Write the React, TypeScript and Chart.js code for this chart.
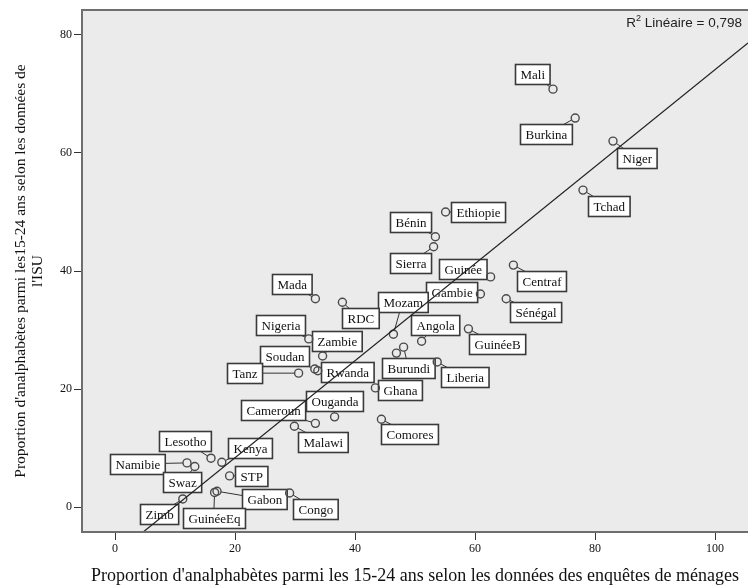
import React, { useEffect, useRef } from "react";
import { Chart, registerables } from "chart.js";

Chart.register(...registerables);

// ---- Data ----
const countries = [
  "Mali", "Burkina", "Niger", "Tchad", "Ethiopie", "Bénin", "Sierra", "Guinée", "Gambie", "Centraf",
  "Sénégal", "Mozam", "Angola", "GuinéeB", "Mada", "RDC", "Nigeria", "Zambie", "Soudan", "Rwanda",
  "Tanz", "Burundi", "", "Liberia", "Ghana", "Ouganda", "Cameroun", "Malawi", "Comores", "Lesotho",
  "Kenya", "Namibie", "Swaz", "STP", "Gabon", "GuinéeEq", "Congo", "Zimb",
];

// x: share of illiterates aged 15-24 according to household surveys
const surveyValues = [
  73.0, 76.7, 83.0, 78.0, 55.1, 53.4, 53.1, 62.6, 60.9, 66.4,
  65.2, 46.4, 51.1, 58.9, 33.4, 37.9, 32.3, 34.6, 33.3, 33.8,
  30.6, 48.1, 46.9, 53.7, 43.4, 36.6, 33.4, 29.9, 44.4, 16.0,
  17.8, 12.0, 13.3, 19.1, 17.0, 16.6, 29.1, 11.3,
];

// y: share of illiterates aged 15-24 according to UIS data
const isuValues = [
  70.8, 65.9, 62.0, 53.7, 50.0, 45.8, 44.1, 39.0, 36.1, 41.0,
  35.3, 29.3, 28.1, 30.2, 35.3, 34.7, 28.5, 25.6, 23.4, 23.1,
  22.7, 27.1, 26.1, 24.6, 20.2, 15.3, 14.2, 13.7, 14.9, 8.3,
  7.6, 7.5, 6.9, 5.3, 2.7, 2.5, 2.4, 1.4,
];

// Fit line end points
const fitLineX = [4.7, 105.5];
const fitLineY = [-4.2, 78.6];
const r2Value = "0,798";

const xTicks = [0, 20, 40, 60, 80, 100];
const yTicks = [0, 20, 40, 60, 80];

const xTitle = "Proportion d'analphabètes parmi les 15-24 ans selon les données des enquêtes de ménages";
const yTitle = ["Proportion d'analphabètes parmi les15-24 ans selon les données de", "l'ISU"];

// ---- Layout: label box centre offsets from each point, in pixels ----
const labelOffsets: [number, number][] = [
  [-21, -15.5], [-29, 16], [23.5, 16.5], [26, 16], [32.5, 0], [-24.5, -15], [-23.5, 16], [-27.5, -8], [-28.5, -2], [28.5, 15.5],
  [29.5, 13.5], [9, -32], [13.5, -16], [29, 15.5], [-24, -14.5], [18, 16], [-28.5, -14], [14, -15], [-30, -13], [29.5, 1],
  [-54.5, 0], [5, 21], [0, 0], [28, 15.5], [25, 2], [-0.5, -16], [-42, -13], [28.5, 15.5], [28, 15], [-26.5, -17],
  [28, -14], [-49.5, 1], [-12.5, 16], [22, 0], [47.5, 8], [-1, 26], [26, 15.5], [-23.5, 15],
];

const SERIF = "'Liberation Serif', 'Times New Roman', serif";
const SANS = "'Liberation Sans', Arial, sans-serif";
const POINT_R = 4;

const plotBackground = {
  id: "plotBackground",
  beforeDraw(chart: any) {
    const { ctx, chartArea: a } = chart;
    ctx.save();
    ctx.fillStyle = "#ebebeb";
    ctx.fillRect(a.left, a.top, a.right - a.left, a.bottom - a.top);
    ctx.restore();
  },
  afterDraw(chart: any) {
    const { ctx, chartArea: a } = chart;
    ctx.save();
    ctx.strokeStyle = "#6e6e6e";
    ctx.lineWidth = 2;
    ctx.strokeRect(a.left, a.top, a.right - a.left + 4, a.bottom - a.top);
    // R² annotation
    ctx.fillStyle = "#222";
    ctx.textBaseline = "middle";
    const y = a.top + 13;
    ctx.font = `13.5px ${SANS}`;
    const rest = ` Linéaire = ${r2Value}`;
    const wRest = ctx.measureText(rest).width;
    const right = a.right - 6;
    ctx.textAlign = "left";
    ctx.fillText(rest, right - wRest, y);
    ctx.font = `9px ${SANS}`;
    const w2 = ctx.measureText("2").width;
    ctx.fillText("2", right - wRest - w2, y - 4);
    ctx.font = `13.5px ${SANS}`;
    const wR = ctx.measureText("R").width;
    ctx.fillText("R", right - wRest - w2 - wR, y);
    ctx.restore();
  },
};

const pointLabels = {
  id: "pointLabels",
  beforeDatasetsDraw(chart: any) {
    const { ctx, chartArea: a } = chart;
    const meta = chart.getDatasetMeta(0);
    ctx.save();
    ctx.beginPath();
    ctx.rect(a.left, a.top, a.right - a.left, a.bottom - a.top);
    ctx.clip();
    ctx.font = `13px ${SERIF}`;
    const boxes: any[] = [];
    countries.forEach((name, i) => {
      if (!name) return;
      const el = meta.data[i];
      const px = el.x;
      const py = el.y;
      const [dx, dy] = labelOffsets[i];
      const cx = px + dx;
      const cy = py + dy;
      const tw = ctx.measureText(name).width;
      const w = tw + 10;
      const h = 20;
      boxes.push({ name, cx, cy, w, h });
      const len = Math.hypot(dx, dy);
      if (len > 0) {
        ctx.strokeStyle = "#333";
        ctx.lineWidth = 1;
        ctx.beginPath();
        ctx.moveTo(px + (dx / len) * POINT_R, py + (dy / len) * POINT_R);
        ctx.lineTo(cx, cy);
        ctx.stroke();
      }
    });
    boxes.forEach((b) => {
      const x0 = Math.round(b.cx - b.w / 2) + 0.5;
      const y0 = Math.round(b.cy - b.h / 2) + 0.5;
      ctx.fillStyle = "#ffffff";
      ctx.fillRect(x0, y0, b.w, b.h);
      ctx.strokeStyle = "#3a3a3a";
      ctx.lineWidth = 1.6;
      ctx.strokeRect(x0, y0, b.w, b.h);
      ctx.fillStyle = "#111";
      ctx.textAlign = "center";
      ctx.textBaseline = "middle";
      ctx.fillText(b.name, x0 + b.w / 2, y0 + b.h / 2 + 1);
    });
    ctx.restore();
  },
};

export default function App() {
  const canvasRef = useRef<HTMLCanvasElement | null>(null);

  useEffect(() => {
    const canvas = canvasRef.current;
    if (!canvas) return;
    const chart = new Chart(canvas, {
      type: "scatter",
      data: {
        datasets: [
          {
            type: "scatter",
            label: "Pays",
            data: surveyValues.map((x, i) => ({ x, y: isuValues[i] })),
            pointRadius: POINT_R,
            pointHoverRadius: POINT_R,
            pointBorderWidth: 1.4,
            pointBorderColor: "#4a4a4a",
            pointBackgroundColor: "rgba(0,0,0,0)",
            order: 2,
          },
          {
            type: "line",
            label: "Fit",
            data: fitLineX.map((x, i) => ({ x, y: fitLineY[i] })),
            borderColor: "#222",
            borderWidth: 1.2,
            pointRadius: 0,
            fill: false,
            order: 1,
          } as any,
        ],
      },
      options: {
        responsive: false,
        animation: false,
        devicePixelRatio: 1,
        layout: { autoPadding: false, padding: { top: 10, left: 0, right: 0, bottom: 0 } },
        plugins: {
          legend: { display: false },
          tooltip: { enabled: false },
          title: { display: false },
        },
        scales: {
          x: {
            type: "linear",
            min: -5.5,
            max: 105.5,
            afterBuildTicks: (scale: any) => {
              scale.ticks = xTicks.map((v) => ({ value: v }));
            },
            afterFit: (scale: any) => {
              scale.height = 56;
              scale.paddingRight = 0;
              scale.paddingLeft = 0;
            },
            ticks: {
              font: { family: SERIF, size: 12 },
              color: "#111",
              padding: 2,
              maxRotation: 0,
            },
            grid: {
              drawOnChartArea: false,
              drawTicks: true,
              tickLength: 8,
              color: "#333",
              lineWidth: 1,
            },
            border: { display: false },
            title: {
              display: true,
              text: xTitle,
              font: { family: SERIF, size: 18, lineHeight: 1.2 },
              color: "#111",
              padding: { top: 0, bottom: 1 },
            },
          },
          y: {
            type: "linear",
            min: -4.2,
            max: 84.2,
            afterBuildTicks: (scale: any) => {
              scale.ticks = yTicks.map((v) => ({ value: v }));
            },
            afterFit: (scale: any) => {
              scale.width = 82;
              scale.paddingTop = 0;
              scale.paddingBottom = 0;
            },
            ticks: {
              font: { family: SERIF, size: 12 },
              color: "#111",
              padding: 2,
            },
            grid: {
              drawOnChartArea: false,
              drawTicks: true,
              tickLength: 8,
              color: "#333",
              lineWidth: 1,
            },
            border: { display: false },
            title: {
              display: true,
              text: yTitle,
              font: { family: SERIF, size: 15.5, lineHeight: 1.1 },
              color: "#111",
              padding: { top: 12.5, bottom: 0 },
            },
          },
        },
      },
      plugins: [plotBackground, pointLabels],
    });
    return () => chart.destroy();
  }, []);

  return (
    <div style={{ position: "absolute", left: 0, top: 0, width: 748, height: 588, background: "#fff" }}>
      <canvas ref={canvasRef} width={748} height={588} style={{ display: "block" }} />
    </div>
  );
}
